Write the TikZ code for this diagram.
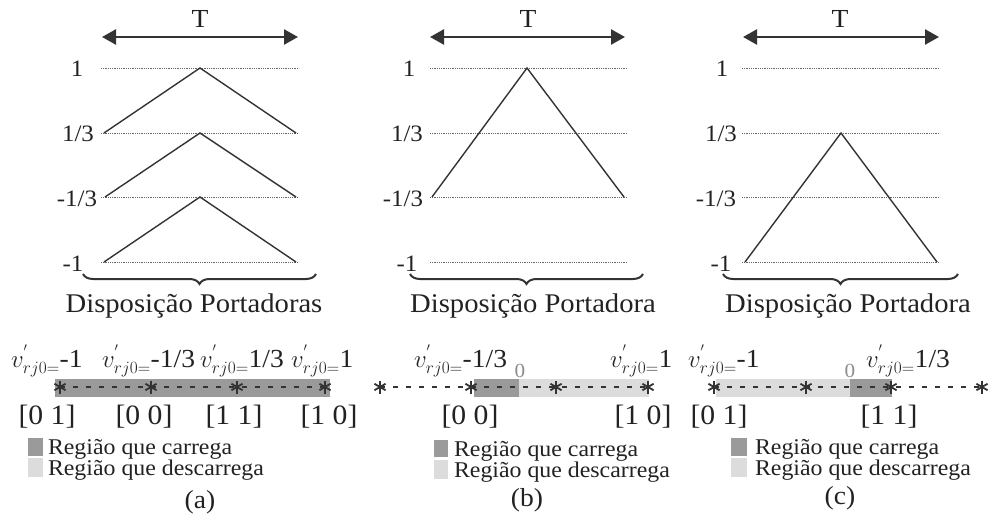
\documentclass[tikz,border=0pt]{standalone}
\usepackage{fontspec}
\setmainfont[FakeStretch=1.06]{Liberation Serif}
\usetikzlibrary{arrows.meta,decorations.pathreplacing}
\definecolor{ink}{HTML}{222222}
\definecolor{linec}{HTML}{333333}
\definecolor{darkreg}{HTML}{9A9A9A}
\definecolor{lightreg}{HTML}{DCDCDC}
\definecolor{dotc}{HTML}{666666}
\definecolor{zeroc}{HTML}{8C8C8C}
\begin{document}
\begin{tikzpicture}[x=1pt,y=-1pt,
  every node/.style={inner sep=0pt,outer sep=0pt,text=ink},
  lvl/.style={anchor=base,font=\fontsize{23.5}{26}\selectfont},
  tlab/.style={anchor=base,font=\fontsize{26}{28}\selectfont},
  tarr/.style={draw=linec,line width=2.5pt,{Triangle[length=14pt,width=15pt]}-{Triangle[length=14pt,width=15pt]}},
  dotl/.style={draw=dotc,line width=0.9pt,dash pattern=on 0.9pt off 0.9pt},
  tri/.style={draw=linec,line width=1.4pt,line join=miter},
  brc/.style={draw=linec,line width=2pt,decorate,decoration={brace,mirror,amplitude=10pt}},
  disp/.style={anchor=base,font=\fontsize{27}{29}\selectfont},
  vlab/.style={anchor=base west,font=\fontsize{26}{28}\selectfont},
  astk/.style={draw=linec,line width=1.8pt},
  dashl/.style={draw=linec,line width=1.4pt,dash pattern=on 5pt off 8pt},
  codelab/.style={anchor=base,font=\fontsize{28}{30}\selectfont},
  zerolab/.style={text=zeroc,font=\fontsize{20}{22}\selectfont},
  leglab/.style={anchor=base west,font=\fontsize{22.5}{24}\selectfont},
  subcap/.style={anchor=base,font=\fontsize{26}{28}\selectfont}]
\useasboundingbox (0,0) rectangle (990,524);

% ================= panel (a) =================
\node[tlab] (Ta) at (200,28) {T};
\coordinate (TaL) at (102,37); \coordinate (TaR) at (298,37);
\draw[tarr] (TaL) -- (TaR);
\node[lvl] (a1) at (77,77) {1};
\node[lvl] (a2) at (78,142) {1/3};
\node[lvl] (a3) at (77,206) {-1/3};
\node[lvl] (a4) at (73,271) {-1};
\foreach \y [count=\i] in {68,133,197,262}{
  \coordinate (aL\i) at (101,\y); \coordinate (aR\i) at (299,\y);
  \draw[dotl] (aL\i) -- (aR\i);}
\coordinate (at1l) at (104,133); \coordinate (at1t) at (200,68); \coordinate (at1r) at (296,133);
\coordinate (at2l) at (105,197); \coordinate (at2t) at (200,133); \coordinate (at2r) at (296,197);
\coordinate (at3l) at (104,262); \coordinate (at3t) at (200,197); \coordinate (at3r) at (296,262);
\draw[tri] (at1l) -- (at1t) -- (at1r);
\draw[tri] (at2l) -- (at2t) -- (at2r);
\draw[tri] (at3l) -- (at3t) -- (at3r);
\coordinate (abL) at (83,274); \coordinate (abR) at (316,274);
\draw[brc] (abL) -- (abR);
\node[disp] (ad) at (194,312) {Disposição Portadoras};
\node[vlab] (av1) at (11,367) {$v^{'}_{rj0=}$-1};
\node[vlab] (av2) at (102,367) {$v^{'}_{rj0=}$-1/3};
\node[vlab] (av3) at (200,367) {$v^{'}_{rj0=}$1/3};
\node[vlab] (av4) at (291,367) {$v^{'}_{rj0=}$1};
\fill[darkreg] (55,379) rectangle (330,397);
\coordinate (as1) at (60,387);
\coordinate (as2) at (151,387);
\coordinate (as3) at (237,387);
\coordinate (as4) at (325,387);
\draw[dashl] (as1) -- (as2) -- (as3) -- (as4);
\node[codelab] (ac1) at (47,424) {[0 1]};
\node[codelab] (ac2) at (144,424) {[0 0]};
\node[codelab] (ac3) at (234,424) {[1 1]};
\node[codelab] (ac4) at (329,424) {[1 0]};
\fill[darkreg] (28,438) rectangle (43,456);
\fill[lightreg] (28,458) rectangle (43,477);
\node[leglab] (al1) at (48,454) {Região que carrega};
\node[leglab] (al2) at (48,475) {Região que descarrega};
\node[subcap] (acap) at (200,508) {(a)};

% ================= panel (b) =================
\node[tlab] (Tb) at (528,28) {T};
\coordinate (TbL) at (430,37); \coordinate (TbR) at (625,37);
\draw[tarr] (TbL) -- (TbR);
\node[lvl] (b1) at (409,77) {1};
\node[lvl] (b2) at (407,142) {1/3};
\node[lvl] (b3) at (403,206) {-1/3};
\node[lvl] (b4) at (407,271) {-1};
\foreach \y [count=\i] in {68,133,197,262}{
  \coordinate (bL\i) at (430,\y); \coordinate (bR\i) at (627,\y);
  \draw[dotl] (bL\i) -- (bR\i);}
\coordinate (btl) at (432,197); \coordinate (btt) at (527,68); \coordinate (btr) at (624,197);
\draw[tri] (btl) -- (btt) -- (btr);
\coordinate (bbL) at (410,274); \coordinate (bbR) at (643,274);
\draw[brc] (bbL) -- (bbR);
\node[disp] (bd) at (533,312) {Disposição Portadora};
\node[vlab] (bv1) at (414,367) {$v^{'}_{rj0=}$-1/3};
\node[vlab] (bv2) at (610,367) {$v^{'}_{rj0=}$1};
\fill[darkreg] (474,379) rectangle (519,397);
\fill[lightreg] (519,379) rectangle (649,397);
\node[zerolab] (bz) at (520,371) {0};
\coordinate (bs1) at (380,387);
\coordinate (bs2) at (471,387);
\coordinate (bs3) at (556,387);
\coordinate (bs4) at (648,387);
\draw[dashl] (bs1) -- (bs2) -- (bs3) -- (bs4);
\node[codelab] (bc1) at (470,424) {[0 0]};
\node[codelab] (bc2) at (643,424) {[1 0]};
\fill[darkreg] (434,440) rectangle (448,457);
\fill[lightreg] (434,460) rectangle (448,479);
\node[leglab] (bl1) at (454,456) {Região que carrega};
\node[leglab] (bl2) at (454,477) {Região que descarrega};
\node[subcap] (bcap) at (527,506) {(b)};

% ================= panel (c) =================
\node[tlab] (Tc) at (840,28) {T};
\coordinate (TcL) at (743,37); \coordinate (TcR) at (939,37);
\draw[tarr] (TcL) -- (TcR);
\node[lvl] (c1) at (722,77) {1};
\node[lvl] (c2) at (721,142) {1/3};
\node[lvl] (c3) at (716,206) {-1/3};
\node[lvl] (c4) at (721,271) {-1};
\foreach \y [count=\i] in {68,133,197,262}{
  \coordinate (cL\i) at (742,\y); \coordinate (cR\i) at (940,\y);
  \draw[dotl] (cL\i) -- (cR\i);}
\coordinate (ctl) at (745,262); \coordinate (ctt) at (841,133); \coordinate (ctr) at (937,262);
\draw[tri] (ctl) -- (ctt) -- (ctr);
\coordinate (cbL) at (723,274); \coordinate (cbR) at (958,274);
\draw[brc] (cbL) -- (cbR);
\node[disp] (cd) at (848,312) {Disposição Portadora};
\node[vlab] (cv1) at (688,367) {$v^{'}_{rj0=}$-1};
\node[vlab] (cv2) at (866,367) {$v^{'}_{rj0=}$1/3};
\fill[lightreg] (716,379) rectangle (850,397);
\fill[darkreg] (850,379) rectangle (892,397);
\node[zerolab] (cz) at (850,371) {0};
\coordinate (cs1) at (714,387);
\coordinate (cs2) at (806,387);
\coordinate (cs3) at (891,387);
\coordinate (cs4) at (982,387);
\draw[dashl] (cs1) -- (cs2) -- (cs3) -- (cs4);
\node[codelab] (cc1) at (719,424) {[0 1]};
\node[codelab] (cc2) at (889,424) {[1 1]};
\fill[darkreg] (731,438) rectangle (747,456);
\fill[lightreg] (731,458) rectangle (747,477);
\node[leglab] (cl1) at (755,454) {Região que carrega};
\node[leglab] (cl2) at (755,475) {Região que descarrega};
\node[subcap] (ccap) at (840,504) {(c)};

% asterisks
\foreach \p in {as1,as2,as3,as4,bs1,bs2,bs3,bs4,cs1,cs2,cs3,cs4}{
  \draw[astk] (\p) ++(0,-6.5) -- ++(0,13);
  \draw[astk] (\p) ++(-5.6,-3.25) -- ++(11.2,6.5);
  \draw[astk] (\p) ++(-5.6,3.25) -- ++(11.2,-6.5);}
\end{tikzpicture}
\end{document}
